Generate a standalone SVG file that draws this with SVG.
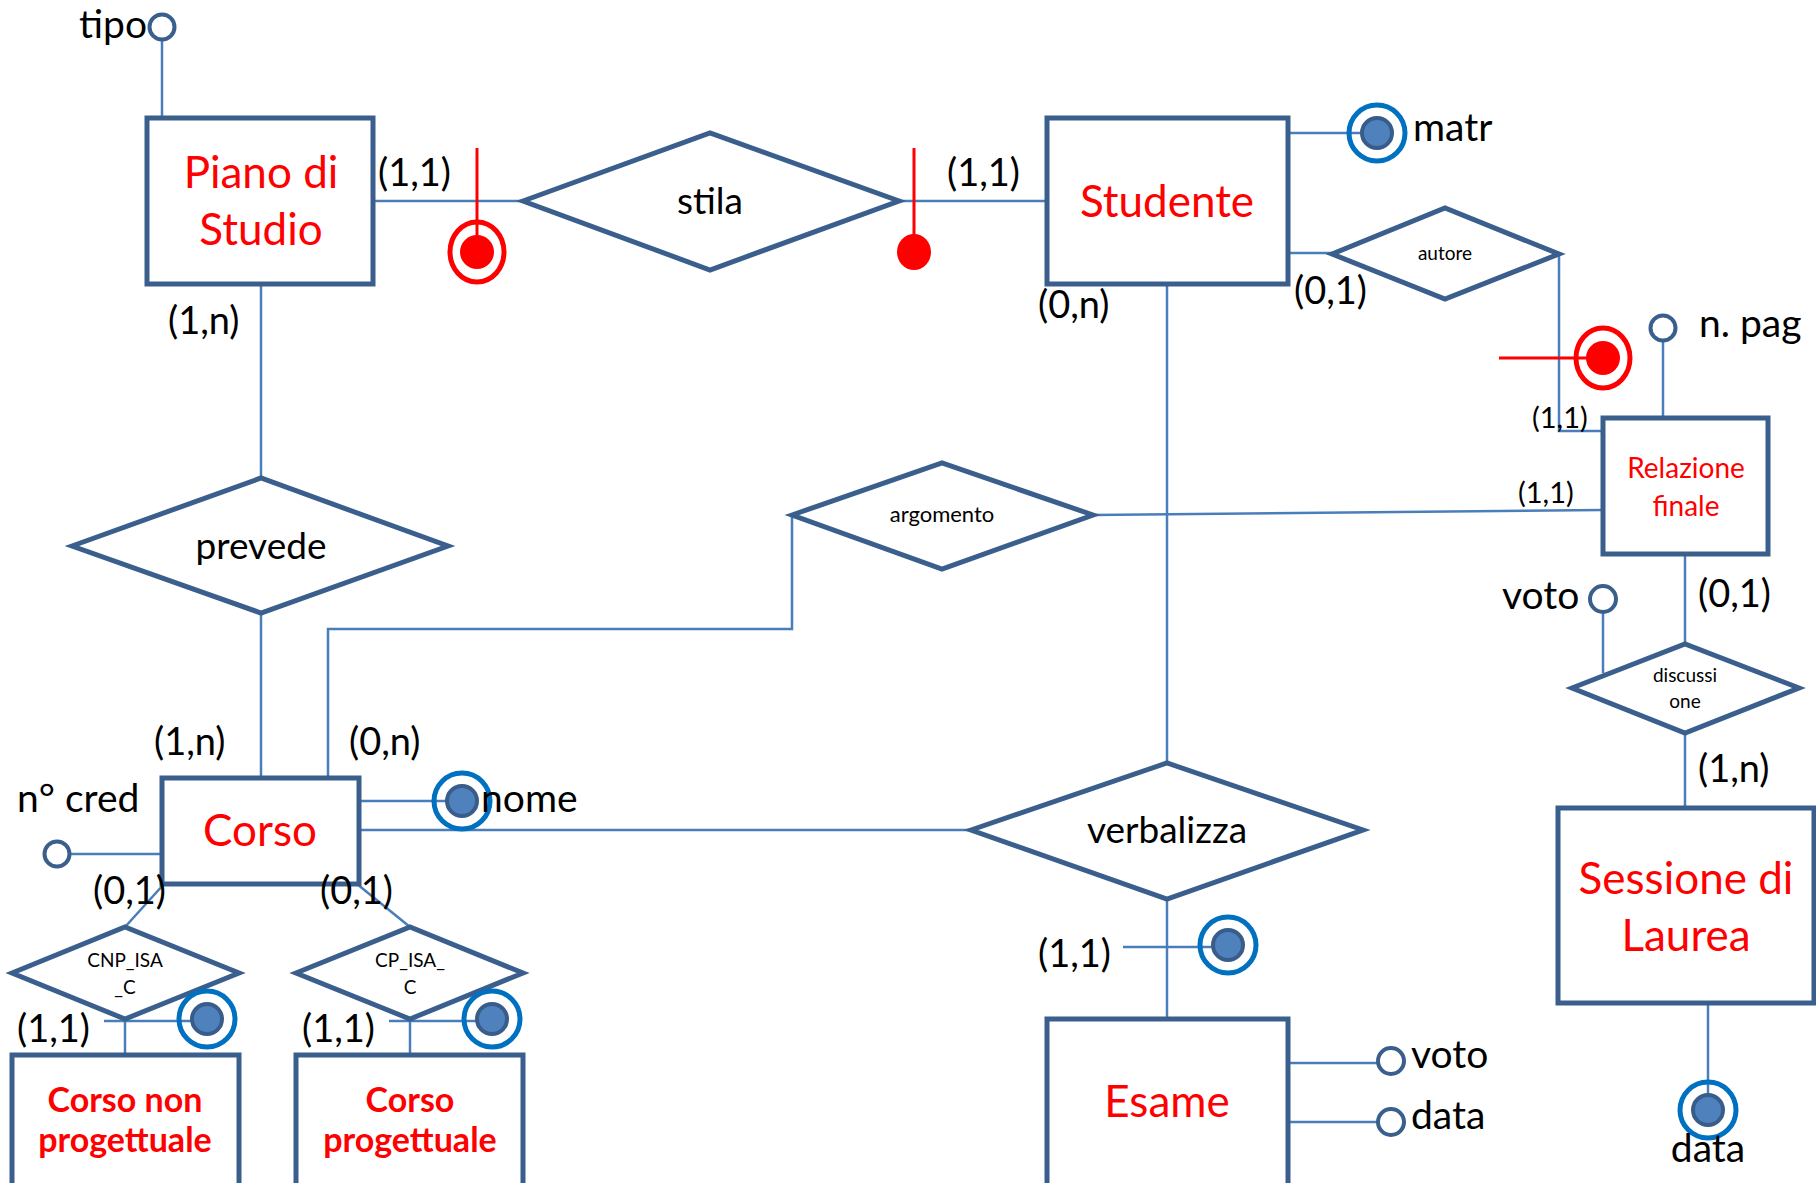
<svg xmlns="http://www.w3.org/2000/svg" width="1816" height="1183" viewBox="0 0 1816 1183">
<style>
.ent{fill:#fff;stroke:#3A5F8D;stroke-width:5}
.rel{fill:#fff;stroke:#3A5F8D;stroke-width:5;stroke-linejoin:miter}
.ln{fill:none;stroke:#4A7EBB;stroke-width:2.5}
.rl{fill:none;stroke:#FF0000;stroke-width:3}
.att{fill:#fff;stroke:#3A5F8D;stroke-width:4}
.ring{fill:none;stroke:#0070C0;stroke-width:5}
.dot{fill:#4F81BD;stroke:#385D8A;stroke-width:4}
.rring{fill:none;stroke:#FF0000;stroke-width:5}
.rdot{fill:#FF0000}
text{font-family:Lato,"Open Sans","DejaVu Sans",sans-serif}
.en{fill:#FF0000;font-size:44px;text-anchor:middle}
.enb{fill:#FF0000;font-size:34px;font-weight:bold;text-anchor:middle}
.ens{fill:#FF0000;font-size:28px;text-anchor:middle}
.rn{fill:#000;font-size:37px;text-anchor:middle}
.rs{fill:#000;font-size:19px;text-anchor:middle}
.card{fill:#000;font-size:38px}
.cs{fill:#000;font-size:29px}
.at{fill:#000;font-size:39px}
</style>
<g id="connectors">
<line class="ln" x1="162" y1="40" x2="162" y2="118"/>
<line class="ln" x1="373" y1="201" x2="523" y2="201"/>
<line class="ln" x1="899" y1="201" x2="1047" y2="201"/>
<line class="ln" x1="1288" y1="133" x2="1377" y2="133"/>
<line class="ln" x1="1288" y1="253" x2="1332" y2="253"/>
<polyline class="ln" points="1559,254 1559,431 1603,431"/>
<line class="ln" x1="1663" y1="341" x2="1663" y2="418"/>
<line class="ln" x1="1093" y1="515" x2="1603" y2="510"/>
<polyline class="ln" points="792,515 792,629 328,629 328,778"/>
<line class="ln" x1="261" y1="284" x2="261" y2="478"/>
<line class="ln" x1="261" y1="613" x2="261" y2="778"/>
<line class="ln" x1="359" y1="801" x2="462" y2="801"/>
<line class="ln" x1="359" y1="830" x2="971" y2="830"/>
<line class="ln" x1="70" y1="854" x2="162" y2="854"/>
<line class="ln" x1="164" y1="884" x2="125" y2="927"/>
<line class="ln" x1="357" y1="884" x2="410" y2="927"/>
<line class="ln" x1="125" y1="1019" x2="125" y2="1055"/>
<line class="ln" x1="104" y1="1021" x2="207" y2="1021"/>
<line class="ln" x1="410" y1="1019" x2="410" y2="1055"/>
<line class="ln" x1="389" y1="1021" x2="492" y2="1021"/>
<line class="ln" x1="1167" y1="284" x2="1167" y2="763"/>
<line class="ln" x1="1167" y1="899" x2="1167" y2="1019"/>
<line class="ln" x1="1123" y1="947" x2="1228" y2="947"/>
<line class="ln" x1="1288" y1="1063" x2="1378" y2="1063"/>
<line class="ln" x1="1288" y1="1122" x2="1378" y2="1122"/>
<line class="ln" x1="1685" y1="554" x2="1685" y2="644"/>
<line class="ln" x1="1603" y1="612" x2="1603" y2="673"/>
<line class="ln" x1="1685" y1="733" x2="1685" y2="808"/>
<line class="ln" x1="1708" y1="1003" x2="1708" y2="1110"/>
</g>
<g id="piano-di-studio">
<rect class="ent" x="147" y="118" width="226" height="166"/>
<text class="en" x="261" y="188">Piano di</text>
<text class="en" x="261" y="245">Studio</text>
</g>
<g id="attr-tipo">
<circle class="att" cx="162" cy="27" r="12.5"/>
<text class="at" x="147" y="38" text-anchor="end">tipo</text>
</g>
<g id="stila">
<polygon class="rel" points="523,201 710,133 899,201 710,270"/>
<text class="rn" x="710" y="214">stila</text>
<text class="card" x="378" y="186">(1,1)</text>
<text class="card" x="947" y="186">(1,1)</text>
</g>
<g id="ext-id-stila">
<line class="rl" x1="477" y1="148" x2="477" y2="252"/>
<ellipse class="rring" cx="477" cy="252" rx="27" ry="30"/>
<circle class="rdot" cx="477" cy="252" r="17"/>
<line class="rl" x1="914" y1="148" x2="914" y2="252"/>
<ellipse class="rdot" cx="914" cy="252" rx="17" ry="18"/>
</g>
<g id="studente">
<rect class="ent" x="1047" y="118" width="241" height="166"/>
<text class="en" x="1167" y="217">Studente</text>
</g>
<g id="attr-matr">
<circle class="ring" cx="1377" cy="133" r="28"/>
<circle class="dot" cx="1377" cy="133" r="15"/>
<text class="at" x="1413" y="141">matr</text>
</g>
<g id="autore">
<polygon class="rel" points="1332,254 1445,208 1559,254 1445,299"/>
<text class="rs" x="1445" y="260">autore</text>
<text class="card" x="1294" y="304">(0,1)</text>
<text class="card" x="1038" y="318">(0,n)</text>
<text class="cs" x="1532" y="428">(1,1)</text>
</g>
<g id="ext-id-relazione">
<line class="rl" x1="1499" y1="358" x2="1603" y2="358"/>
<ellipse class="rring" cx="1603" cy="358" rx="27" ry="30"/>
<circle class="rdot" cx="1603" cy="358" r="17"/>
</g>
<g id="attr-npag">
<circle class="att" cx="1663" cy="328" r="12.5"/>
<text class="at" x="1699" y="337">n. pag</text>
</g>
<g id="relazione-finale">
<rect class="ent" x="1603" y="418" width="165" height="136"/>
<text class="ens" x="1686" y="478">Relazione</text>
<text class="ens" x="1686" y="516">finale</text>
</g>
<g id="argomento">
<polygon class="rel" points="792,515 942,463 1093,515 942,569"/>
<text class="rs" x="942" y="522" style="font-size:22px">argomento</text>
<text class="cs" x="1518" y="503">(1,1)</text>
<text class="card" x="349" y="755">(0,n)</text>
</g>
<g id="prevede">
<polygon class="rel" points="72,546 261,478 448,546 261,613"/>
<text class="rn" x="261" y="559">prevede</text>
<text class="card" x="168" y="334">(1,n)</text>
<text class="card" x="154" y="755">(1,n)</text>
</g>
<g id="corso">
<rect class="ent" x="162" y="778" width="197" height="106"/>
<text class="en" x="260" y="846">Corso</text>
</g>
<g id="attr-nome">
<circle class="ring" cx="462" cy="801" r="28"/>
<circle class="dot" cx="462" cy="801" r="15"/>
<text class="at" x="481" y="812">nome</text>
</g>
<g id="attr-ncred">
<circle class="att" cx="57" cy="854" r="12.5"/>
<text class="at" x="17" y="812">n° cred</text>
</g>
<g id="cnp-isa-c">
<polygon class="rel" points="12,973 125,927 239,973 125,1019"/>
<text class="rs" x="125" y="967">CNP_ISA</text>
<text class="rs" x="125" y="994">_C</text>
<text class="card" x="93" y="904">(0,1)</text>
<text class="card" x="17" y="1042">(1,1)</text>
<circle class="ring" cx="207" cy="1019" r="28"/>
<circle class="dot" cx="207" cy="1019" r="15"/>
</g>
<g id="cp-isa-c">
<polygon class="rel" points="296,973 410,927 523,973 410,1019"/>
<text class="rs" x="410" y="967">CP_ISA_</text>
<text class="rs" x="410" y="994">C</text>
<text class="card" x="320" y="904">(0,1)</text>
<text class="card" x="302" y="1042">(1,1)</text>
<circle class="ring" cx="492" cy="1019" r="28"/>
<circle class="dot" cx="492" cy="1019" r="15"/>
</g>
<g id="corso-non-progettuale">
<rect class="ent" x="12" y="1055" width="227" height="140"/>
<text class="enb" x="125" y="1112">Corso non</text>
<text class="enb" x="125" y="1152">progettuale</text>
</g>
<g id="corso-progettuale">
<rect class="ent" x="296" y="1055" width="227" height="140"/>
<text class="enb" x="410" y="1112">Corso</text>
<text class="enb" x="410" y="1152">progettuale</text>
</g>
<g id="verbalizza">
<polygon class="rel" points="971,830 1167,763 1363,830 1167,899"/>
<text class="rn" x="1167" y="843">verbalizza</text>
<text class="card" x="1038" y="967">(1,1)</text>
<circle class="ring" cx="1228" cy="945" r="28"/>
<circle class="dot" cx="1228" cy="945" r="15"/>
</g>
<g id="esame">
<rect class="ent" x="1047" y="1019" width="241" height="175"/>
<text class="en" x="1167" y="1117">Esame</text>
</g>
<g id="attr-esame-voto">
<circle class="att" cx="1391" cy="1061" r="13"/>
<text class="at" x="1411" y="1068">voto</text>
</g>
<g id="attr-esame-data">
<circle class="att" cx="1391" cy="1122" r="13"/>
<text class="at" x="1411" y="1129">data</text>
</g>
<g id="discussione">
<polygon class="rel" points="1572,688 1685,644 1799,688 1685,733"/>
<text class="rs" x="1685" y="682">discussi</text>
<text class="rs" x="1685" y="708">one</text>
<text class="card" x="1698" y="607">(0,1)</text>
<text class="card" x="1698" y="782">(1,n)</text>
</g>
<g id="attr-disc-voto">
<circle class="att" cx="1603" cy="599" r="13"/>
<text class="at" x="1502" y="609">voto</text>
</g>
<g id="sessione-di-laurea">
<rect class="ent" x="1558" y="808" width="256" height="195"/>
<text class="en" x="1686" y="894">Sessione di</text>
<text class="en" x="1686" y="951">Laurea</text>
</g>
<g id="attr-sess-data">
<circle class="ring" cx="1708" cy="1110" r="28"/>
<circle class="dot" cx="1708" cy="1110" r="15"/>
<text class="at" x="1708" y="1162" text-anchor="middle">data</text>
</g>
</svg>
